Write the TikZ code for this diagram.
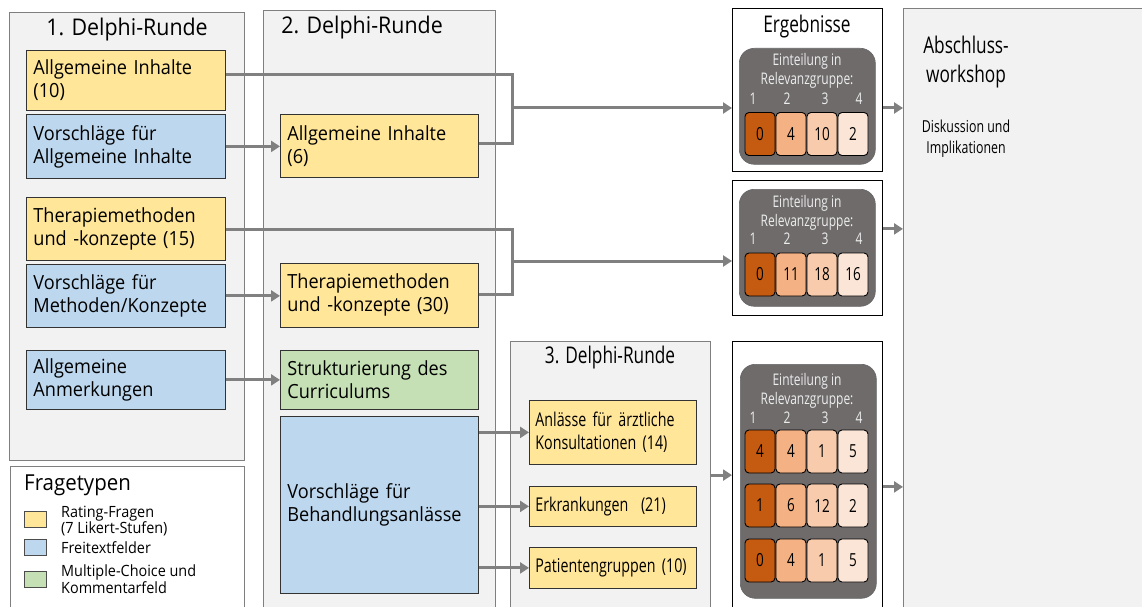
\documentclass[tikz,border=0pt]{standalone}
\usepackage{fontspec}
\setmainfont{Open Sans}[FakeStretch=0.93]
\newfontfamily\condfont{Open Sans}[FakeStretch=0.75]
\usetikzlibrary{arrows.meta}
\definecolor{panelgray}{HTML}{F2F2F2}
\definecolor{framegray}{HTML}{7F7F7F}
\definecolor{linkgray}{HTML}{808080}
\definecolor{qyellow}{HTML}{FFE699}
\definecolor{qblue}{HTML}{BDD7EE}
\definecolor{qgreen}{HTML}{C5E0B4}
\definecolor{relgray}{HTML}{6F6B6B}
\definecolor{reltext}{HTML}{EDEDED}
\definecolor{rel1}{HTML}{C55A11}
\definecolor{rel2}{HTML}{F4B183}
\definecolor{rel3}{HTML}{F8CBAD}
\definecolor{rel4}{HTML}{FBE5D6}
\newcommand\boxfont{\fontsize{19.5}{23}\selectfont}
\newcommand\titlefont{\fontsize{23}{26}\selectfont}
\newcommand\legfont{\fontsize{15.5}{14}\selectfont}
\newcommand\relfont{\condfont\fontsize{16}{19}\selectfont}
\tikzset{
  panel/.style={draw=framegray, fill=panelgray, line width=1.2pt, anchor=north west, inner sep=0pt},
  resbox/.style={draw=black, fill=white, line width=0.8pt, anchor=north west, inner sep=0pt},
  qbox/.style={draw=black!80, line width=0.8pt, anchor=north west, align=left,
    inner xsep=7pt, inner ysep=2pt, font=\boxfont, text width=185pt},
  ybox/.style={qbox, fill=qyellow},
  bbox/.style={qbox, fill=qblue},
  gbox/.style={qbox, fill=qgreen},
  roundtitle/.style={font=\titlefont, inner sep=0pt},
  relbox/.style={fill=relgray, draw=black!60, line width=0.6pt, rounded corners=15pt,
    anchor=north west, minimum width=136pt, inner sep=0pt},
  reltxt/.style={text=reltext, font=\relfont, align=center, inner sep=0pt},
  cell/.style={draw=black, line width=0.9pt, rounded corners=4pt, minimum width=30pt,
    minimum height=43pt, inner sep=0pt, font=\condfont\fontsize{18}{20}\selectfont},
  swatch/.style={draw=black!70, line width=0.8pt, anchor=north west, minimum width=22pt,
    minimum height=16pt, inner sep=0pt},
  legtxt/.style={font=\legfont, anchor=west, align=left, inner sep=0pt},
  link/.style={draw=linkgray, line width=3pt},
  arr/.style={link, -{Triangle[length=9pt, width=11pt]}}
}
\begin{document}
\begin{tikzpicture}[x=1pt, y=-1pt]
\useasboundingbox (0,0) rectangle (1142,607);
% Panels
\node[panel, minimum width=235pt, minimum height=448pt] (rnd1) at (9,12) {};
\node[panel, minimum width=232pt, minimum height=605pt] (rnd2) at (263,10) {};
\node[panel, minimum width=200pt, minimum height=275pt] (rnd3) at (510,341) {};
\node[panel, fill=white, minimum width=234pt, minimum height=150pt] (leg) at (10,466) {};
\node[resbox, minimum width=150pt, minimum height=163pt] (res1) at (732,8) {};
\node[resbox, minimum width=150pt, minimum height=135pt] (res2) at (732,180) {};
\node[resbox, minimum width=150pt, minimum height=275pt] (res3) at (732,341) {};
\node[panel, minimum width=250pt, minimum height=610pt] (fin) at (903,8) {};
% Titles
\node[roundtitle] (t1) at (127,30) {1. Delphi-Runde};
\node[roundtitle] (t2) at (362,28) {2. Delphi-Runde};
\node[roundtitle, font=\condfont\fontsize{23}{26}\selectfont] (t3) at (610,358) {3. Delphi-Runde};
\node[roundtitle, font=\condfont\fontsize{23}{26}\selectfont] (tres) at (807,27) {Ergebnisse};
\node[roundtitle, font=\fontsize{22}{26}\selectfont, anchor=west] (tleg) at (24,485) {Fragetypen};
\node[font=\condfont\fontsize{23}{29}\selectfont, align=center, inner sep=0pt] (tfin) at (966,62) {Abschluss-\\workshop};
\node[font=\condfont\fontsize{16.5}{21}\selectfont, align=center, inner sep=0pt] (dfin) at (966,139) {Diskussion und\\Implikationen};
% Connectors
\coordinate (j1) at (512,108);
\coordinate (j2) at (512,261);
\draw[link] (26+199,75) coordinate (ai10out) -| (j1) |- (478,143) coordinate (ai6out);
\draw[link] (26+199,229) coordinate (t15out) -| (j2) |- (478,294) coordinate (t30out);
\draw[arr] (j1) -- (j1 -| res1.west);
\draw[arr] (j2) -- (j2 -| res2.west);
\draw[arr] (j1 -| res1.east) -- (j1 -| fin.west);
\draw[arr] ([yshift=19pt]res2.east) -- ([yshift=19pt]res2.east -| fin.west);
\draw[arr] ([yshift=-8pt]res3.east) -- ([yshift=-8pt]res3.east -| fin.west);
\draw[arr] ([yshift=4pt]rnd3.east) -- ([yshift=4pt]rnd3.east -| res3.west);
% Round 1
\node[ybox, minimum height=60pt] (ai10) at (26,50) {Allgemeine Inhalte\\(10)};
\node[bbox, minimum height=64pt] (vai) at (26,114) {Vorschläge für\\Allgemeine Inhalte};
\node[ybox, minimum height=63pt] (t15) at (26,197) {Therapiemethoden\\und -konzepte (15)};
\node[bbox, minimum height=63pt] (vmk) at (26,264) {Vorschläge für\\Methoden/Konzepte};
\node[bbox, minimum height=59pt] (aa) at (26,350) {Allgemeine\\Anmerkungen};
% Round 2
\node[ybox, text width=184pt, minimum height=63pt] (ai6) at (280,114) {Allgemeine Inhalte\\(6)};
\node[ybox, text width=184pt, minimum height=64pt] (t30) at (280,263) {Therapiemethoden\\und -konzepte (30)};
\node[gbox, text width=184pt, minimum height=59pt] (struc) at (280,350) {Strukturierung des\\Curriculums};
\node[bbox, text width=184pt, minimum height=177pt] (vb) at (280,416) {Vorschläge für\\Behandlungsanlässe};
% Round 3
\tikzset{r3/.style={ybox, text width=155pt, inner xsep=6pt, font=\condfont\fontsize{19}{23}\selectfont}}
\node[r3, minimum height=64pt] (a14) at (529,400) {Anlässe für ärztliche\\Konsultationen (14)};
\node[r3, minimum height=40pt] (e21) at (529,486) {Erkrankungen~ (21)};
\node[r3, minimum height=41pt] (p10) at (529,547) {Patientengruppen (10)};
\draw[arr] (vai) -- (ai6.west |- vai.east);
\draw[arr] (vmk) -- (t30.west |- vmk.east);
\draw[arr] (aa) -- (struc);
\draw[arr] (vb.east |- a14.west) -- (a14.west);
\draw[arr] (vb.east |- e21.west) -- (e21.west);
\draw[arr] (vb.east |- p10.west) -- (p10.west);
% Results
\node[relbox, minimum height=116pt] (g1) at (739,48) {};
\node[relbox, minimum height=117pt] (g2) at (739,189) {};
\node[relbox, minimum height=234pt] (g3) at (740,364) {};
\node[reltxt] (g1t) at (807,71) {Einteilung in\\Relevanzgruppe:};
\node[reltxt] (g2t) at (807,213) {Einteilung in\\Relevanzgruppe:};
\node[reltxt] (g3t) at (807,391) {Einteilung in\\Relevanzgruppe:};
\foreach \n/\x in {1/753,2/787,3/825,4/859} {
  \node[reltxt] (g1h\n) at (\x,99) {\n};
  \node[reltxt] (g2h\n) at (\x,239) {\n};
  \node[reltxt] (g3h\n) at (\x,418) {\n};
}
\foreach \v [count=\i] in {0,4,10,2}
  \node[cell, fill=rel\i] (c1\i) at (729+31*\i,134) {\v};
\foreach \v [count=\i] in {0,11,18,16}
  \node[cell, fill=rel\i] (c2\i) at (729+31*\i,274.5) {\v};
\foreach \v [count=\i] in {4,4,1,5}
  \node[cell, fill=rel\i] (c3\i) at (729+31*\i,451.5) {\v};
\foreach \v [count=\i] in {1,6,12,2}
  \node[cell, fill=rel\i] (c4\i) at (729+31*\i,505.5) {\v};
\foreach \v [count=\i] in {0,4,1,5}
  \node[cell, fill=rel\i] (c5\i) at (729+31*\i,560.5) {\v};
% Legend
\node[swatch, fill=qyellow] (sy) at (24,511) {};
\node[swatch, fill=qblue] (sb) at (24,539) {};
\node[swatch, fill=qgreen] (sg) at (24,571) {};
\node[legtxt] (ly) at (61,521) {Rating-Fragen\\(7 Likert-Stufen)};
\node[legtxt] (lb) at (61,548) {Freitextfelder};
\node[legtxt] (lg) at (61,579) {Multiple-Choice und\\Kommentarfeld};
\end{tikzpicture}
\end{document}
